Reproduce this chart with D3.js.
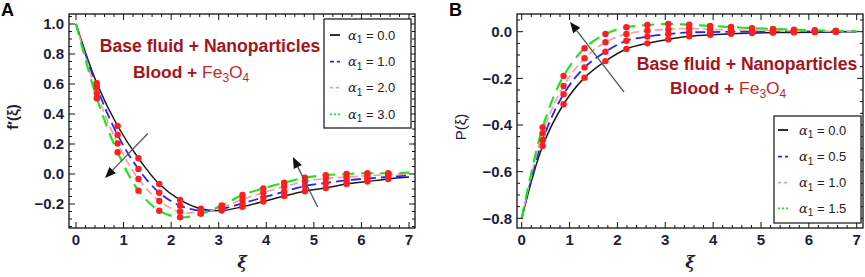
<!DOCTYPE html>
<html><head><meta charset="utf-8">
<script src="https://cdn.jsdelivr.net/npm/d3@7"></script>
<style>body{margin:0;background:#fff}svg{display:block}</style>
</head><body>
<svg id="c" width="865" height="277"></svg>
<script>
// ---- data ----
const xi = [0,0.4375,0.875,1.3125,1.75,2.1875,2.625,3.0625,3.5,3.9375,4.375,4.8125,5.25,5.6875,6.125,6.5625,7];
const seriesNames = ["s0","s1","s2","s3"];
const legendA = ["0.0","1.0","2.0","3.0"];
const legendB = ["0.0","0.5","1.0","1.5"];
const fA0 = [1.0,0.605,0.32,0.105,-0.067,-0.173,-0.232,-0.244,-0.218,-0.184,-0.147,-0.115,-0.093,-0.067,-0.05,-0.033,-0.02];
const fA1 = [1.0,0.578,0.26,0.033,-0.125,-0.211,-0.245,-0.232,-0.196,-0.156,-0.118,-0.08,-0.06,-0.042,-0.03,-0.02,-0.01];
const fA2 = [1.0,0.538,0.204,-0.033,-0.18,-0.251,-0.255,-0.222,-0.169,-0.124,-0.084,-0.05,-0.03,-0.02,-0.012,-0.005,0.0];
const fA3 = [1.0,0.505,0.145,-0.111,-0.245,-0.289,-0.265,-0.21,-0.14,-0.096,-0.058,-0.025,-0.008,0.0,0.005,0.005,0.009];
const pB0 = [-0.8,-0.49,-0.311,-0.197,-0.126,-0.074,-0.05,-0.033,-0.02,-0.013,-0.009,-0.006,-0.004,-0.003,-0.002,-0.001,0.0];
const pB1 = [-0.8,-0.464,-0.268,-0.153,-0.086,-0.039,-0.021,-0.01,-0.003,-0.002,0.0,0.0,0.001,0.001,0.001,0.0,0.0];
const pB2 = [-0.8,-0.435,-0.233,-0.114,-0.045,-0.01,0.004,0.01,0.014,0.01,0.008,0.006,0.005,0.004,0.003,0.002,0.001];
const pB3 = [-0.8,-0.41,-0.19,-0.071,-0.01,0.019,0.029,0.033,0.03,0.025,0.02,0.015,0.012,0.009,0.006,0.004,0.002];
const xTicks = [0,1,2,3,4,5,6,7];
const yTicksA = [-0.2,0.0,0.2,0.4,0.6,0.8,1.0];
const yTicksB = [-0.8,-0.6,-0.4,-0.2,0.0];
const annoLine1 = "Base fluid + Nanoparticles";

// ---- styles ----
const colors = ["#1a1a1a","#2424ff","#ff9a9a","#19e619"];
const dashes = [null,"10,5","8,4","12,7"];
const widths = [1.5,1.8,1.6,2.1];
const legDash = [null,"4,3","3,3","2,2"];

const svg = d3.select("#c");
const fmt = v => (v<0?"\u2212":"") + Math.abs(v).toFixed(1);

function panel(cfg){
  const g = svg.append("g");
  const x = d3.scaleLinear().domain([0,7]).range(cfg.xr);
  const y = d3.scaleLinear().domain(cfg.yd).range(cfg.yr);
  const F = cfg.frame; // [l,t,r,b]
  const clipId = "clip"+cfg.id;
  svg.append("clipPath").attr("id",clipId).append("rect")
    .attr("x",F[0]).attr("y",F[1]).attr("width",F[2]-F[0]).attr("height",F[3]-F[1]);
  // lines
  const line = d3.line().x((d,i)=>x(xi[i])).y(d=>y(d)).curve(d3.curveCatmullRom.alpha(0.5));
  const pg = g.append("g").attr("clip-path",`url(#${clipId})`);
  cfg.data.forEach((s,k)=>{
    pg.append("path").attr("d",line(s)).attr("fill","none")
      .attr("stroke",colors[k]).attr("stroke-width",widths[k])
      .attr("stroke-dasharray",dashes[k]);
  });
  cfg.data.forEach((s,k)=>{
    pg.selectAll(null).data(s.slice(1,16)).enter().append("circle")
      .attr("cx",(d,i)=>x(xi[i+1])).attr("cy",d=>y(d)).attr("r",3.2).attr("fill","#ff1e1e");
  });
  // frame
  g.append("rect").attr("x",F[0]).attr("y",F[1]).attr("width",F[2]-F[0]).attr("height",F[3]-F[1])
    .attr("fill","none").attr("stroke","#111").attr("stroke-width",1.3);
  // ticks x
  const xMinor = d3.range(0,7.01,0.2);
  xMinor.forEach(v=>{
    const major = Math.abs(v-Math.round(v))<1e-6;
    const L = major?6:3;
    const px = x(v);
    g.append("line").attr("x1",px).attr("x2",px).attr("y1",F[3]).attr("y2",F[3]-L).attr("stroke","#111");
    g.append("line").attr("x1",px).attr("x2",px).attr("y1",F[1]).attr("y2",F[1]+L).attr("stroke","#111");
  });
  const yd0 = y.invert(F[3]), yd1 = y.invert(F[1]);
  const step = cfg.yMinor;
  for(let v=Math.ceil(yd0/step)*step; v<=yd1+1e-9; v+=step){
    const major = Math.abs(v/0.2-Math.round(v/0.2))<1e-6;
    const L = major?6:3;
    const py = y(v);
    g.append("line").attr("x1",F[0]).attr("x2",F[0]+L).attr("y1",py).attr("y2",py).attr("stroke","#111");
    g.append("line").attr("x1",F[2]).attr("x2",F[2]-L).attr("y1",py).attr("y2",py).attr("stroke","#111");
  }
  // tick labels
  const tc = "#1b1e3c";
  g.selectAll(null).data(xTicks).enter().append("text")
    .attr("x",d=>x(d)).attr("y",245).attr("text-anchor","middle")
    .attr("font-family","Liberation Sans, Arial, sans-serif").attr("font-weight","bold").attr("font-size",15)
    .attr("fill",tc).text(d=>d);
  g.selectAll(null).data(cfg.yTicks).enter().append("text")
    .attr("x",F[0]-5).attr("y",d=>y(d)+5.3).attr("text-anchor","end")
    .attr("font-family","Liberation Sans, Arial, sans-serif").attr("font-weight","bold").attr("font-size",15)
    .attr("fill",tc).text(d=>fmt(d));
  // axis labels
  g.append("text").attr("x",(F[0]+F[2])/2).attr("y",268).attr("text-anchor","middle")
    .attr("font-family","DejaVu Serif, serif").attr("font-style","italic").attr("font-weight","bold").attr("font-size",16)
    .attr("fill","#1b1e3c").text("ξ");
  g.append("text").attr("transform",`translate(${cfg.ylabX},${cfg.ylabY}) rotate(-90)`).attr("text-anchor","middle")
    .attr("font-family","Liberation Sans, Arial, sans-serif").attr("font-weight",cfg.ylabW).attr("font-size",15)
    .attr("fill","#1b1e3c").text(cfg.ylab);
  // panel letter
  g.append("text").attr("x",cfg.letterX).attr("y",16).attr("font-family","Liberation Sans, Arial, sans-serif")
    .attr("font-weight","bold").attr("font-size",18).attr("fill","#000").text(cfg.letter);
  // annotation
  g.append("text").attr("x",cfg.anno[0]).attr("y",cfg.anno[1]).attr("text-anchor","middle")
    .attr("font-family","Liberation Sans, Arial, sans-serif").attr("font-weight","bold").attr("font-size",17.6)
    .attr("fill","#a3151c").text(annoLine1);
  const t2 = g.append("text").attr("x",cfg.anno2[0]).attr("y",cfg.anno2[1]).attr("text-anchor","start")
    .attr("font-family","Liberation Sans, Arial, sans-serif").attr("font-size",17.4).attr("fill","#a3151c");
  t2.append("tspan").attr("font-weight","bold").text("Blood + ");
  t2.append("tspan").attr("fill","#c22a2a").text("Fe");
  t2.append("tspan").attr("fill","#c22a2a").attr("font-size",12).attr("dy",4).text("3");
  t2.append("tspan").attr("fill","#c22a2a").attr("dy",-4).text("O");
  t2.append("tspan").attr("fill","#c22a2a").attr("font-size",12).attr("dy",4).text("4");
  // arrows
  cfg.arrows.forEach(a=>{
    const x1=x(a[0]),y1=y(a[1]),x2=x(a[2]),y2=y(a[3]);
    const ang=Math.atan2(y2-y1,x2-x1), hl=11, hw=4.5;
    const bx=x2-hl*Math.cos(ang), by=y2-hl*Math.sin(ang);
    g.append("line").attr("x1",x1).attr("y1",y1).attr("x2",bx).attr("y2",by).attr("stroke","#555").attr("stroke-width",1.3);
    const px=-Math.sin(ang), py=Math.cos(ang);
    g.append("path").attr("d",`M${x2},${y2}L${bx+hw*px},${by+hw*py}L${bx-hw*px},${by-hw*py}Z`).attr("fill","#111");
  });
  // legend
  const Lb = cfg.leg;
  g.append("rect").attr("x",Lb[0]).attr("y",Lb[1]).attr("width",Lb[2]-Lb[0]).attr("height",Lb[3]-Lb[1])
    .attr("fill","#fff").attr("stroke","#111").attr("stroke-width",1.2);
  cfg.legend.forEach((lab,k)=>{
    const yy = cfg.legY[k];
    g.append("line").attr("x1",Lb[0]+cfg.legS[0]).attr("x2",Lb[0]+cfg.legS[1]).attr("y1",yy).attr("y2",yy)
      .attr("stroke",colors[k]).attr("stroke-width",1.8).attr("stroke-dasharray",legDash[k]);
    const t = g.append("text").attr("x",Lb[0]+cfg.legT).attr("y",yy+4.5)
      .attr("font-family","Liberation Sans, Arial, sans-serif").attr("font-size",13).attr("fill","#222");
    t.append("tspan").attr("font-style","italic").attr("font-family","DejaVu Serif, serif").text("α");
    t.append("tspan").attr("font-size",10).attr("dy",3.5).text("1");
    t.append("tspan").attr("dy",-3.5).text(" = "+lab);
  });
}

panel({id:"A", letter:"A", letterX:1, xr:[76,409], yd:[-0.2,1.0], yr:[204,24], frame:[69,14,415,228],
  yMinor:0.05, yTicks:yTicksA, data:[fA0,fA1,fA2,fA3], ylab:"f′(ξ)", ylabX:18, ylabY:117, ylabW:"bold",
  anno:[210,52], anno2:[133,78],
  arrows:[[1.51,0.27,0.61,-0.027],[5.08,-0.22,4.56,0.113]],
  leg:[324,19,411,128], legY:[35,61.7,87.7,114.3], legS:[6,16], legT:24, legend:legendA});
panel({id:"B", letter:"B", letterX:449, xr:[521.7,856.7], yd:[-0.8,0], yr:[218.3,31.7], frame:[517,14,863,228],
  yMinor:0.05, yTicks:yTicksB, data:[pB0,pB1,pB2,pB3], ylab:"P(ξ)", ylabX:466, ylabY:127, ylabW:"normal",
  anno:[747,70], anno2:[670,94],
  arrows:[[2.14,-0.259,1.01,0.042]],
  leg:[774,116,861,223], legY:[130,156.7,182.7,208.3], legS:[4,14], legT:25, legend:legendB});
</script>
</body></html>
